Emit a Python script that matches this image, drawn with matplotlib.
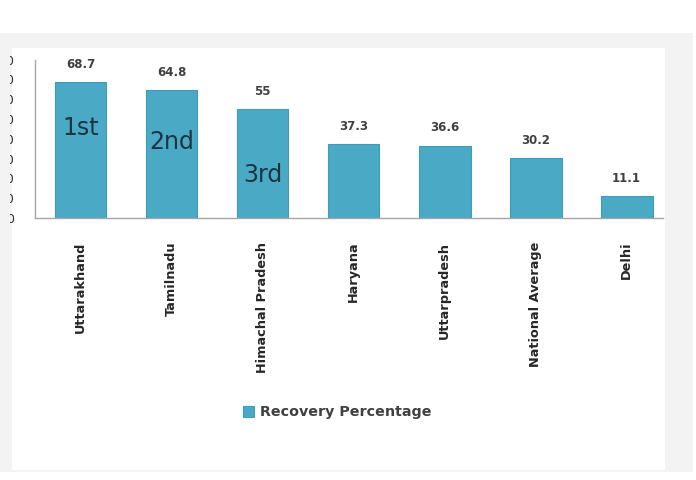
import matplotlib.pyplot as plt
from matplotlib.patches import Rectangle
from matplotlib.transforms import Bbox

states = ["Uttarakhand", "Tamilnadu", "Himachal Pradesh", "Haryana",
          "Uttarpradesh", "National Average", "Delhi"]
recovery = [68.7, 64.8, 55, 37.3, 36.6, 30.2, 11.1]
value_labels = ["68.7", "64.8", "55", "37.3", "36.6", "30.2", "11.1"]
rank_labels = ["1st", "2nd", "3rd"]
rank_y = [45.5, 38.4, 21.7]
yticks = [0, 10, 20, 30, 40, 50, 60, 70, 80]

W, H = 696, 480
fig = plt.figure(figsize=(W / 100, H / 100), dpi=100)
fig.patch.set_facecolor("white")

# screenshot background: grey frame with white panel
fig.patches.append(Rectangle((0, 8 / H), 693 / W, 439 / H, transform=fig.transFigure,
                             facecolor="#f3f3f3", edgecolor="none", zorder=-10))
fig.patches.append(Rectangle((12 / W, 10 / H), 653 / W, 422 / H, transform=fig.transFigure,
                             facecolor="white", edgecolor="none", zorder=-9))

ax = fig.add_axes([35 / W, (H - 218) / H, 628 / W, 158.4 / H])
ax.set_facecolor("none")

bars = ax.bar(range(len(states)), recovery, width=0.57, color="#4aaac6",
              edgecolor="#3f9cb8", linewidth=0.8, label="Recovery Percentage")

for i, (v, t) in enumerate(zip(recovery, value_labels)):
    ax.annotate(t, (i, v), xytext=(0, 8), textcoords="offset points",
                ha="center", va="bottom", fontsize=8.5, fontweight="bold",
                color="#404040")

for i, (t, y) in enumerate(zip(rank_labels, rank_y)):
    ax.text(i, y, t, ha="center", va="center", fontsize=17, color="#1d3440")

ax.set_xlim(-0.5, 6.4)
ax.set_ylim(0, 80)
ax.set_xticks(range(len(states)))
ax.set_xticklabels(states, rotation=90, fontsize=9.3, fontweight="bold", color="#262626")
ax.tick_params(axis="x", length=0, pad=17)

ax.set_yticks(yticks)
ax.set_yticklabels([str(t) for t in yticks], fontsize=9, color="#333333")
ax.tick_params(axis="y", length=0, pad=15)
# only the tail of the y labels shows at the cropped left edge
clip = Bbox([[10, 0], [15, H]])
for lab in ax.get_yticklabels():
    lab.set_clip_box(clip)
    lab.set_clip_on(True)

for s in ["top", "right"]:
    ax.spines[s].set_visible(False)
for s in ["left", "bottom"]:
    ax.spines[s].set_color("#a6a6a6")
    ax.spines[s].set_linewidth(1)

leg = fig.legend(handles=[bars], loc="center", bbox_to_anchor=(337 / W, (H - 412) / H),
                 frameon=False, handlelength=0.8, handleheight=0.8,
                 handletextpad=0.4, prop={"weight": "bold", "size": 10.3})
for t in leg.get_texts():
    t.set_color("#404040")

fig.savefig("out.png", dpi=100)
